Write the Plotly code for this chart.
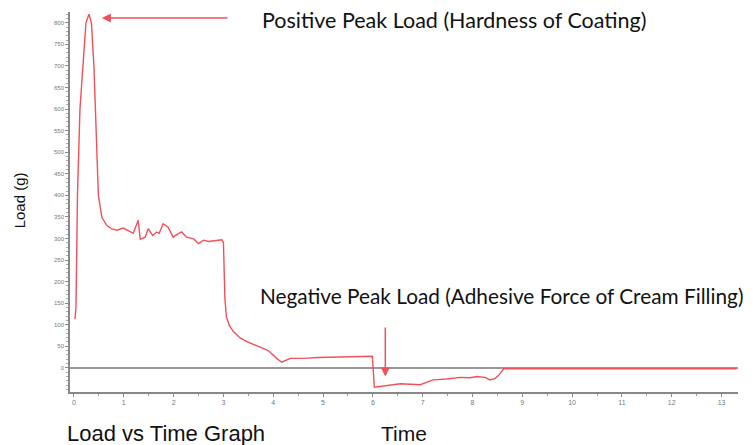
import plotly.graph_objects as go

# Time (s) and load (g)
time = [0.02, 0.04, 0.07, 0.12, 0.21, 0.24, 0.30, 0.35, 0.40, 0.46, 0.49, 0.56, 0.66, 0.76, 0.86, 0.99,
        1.10, 1.19, 1.29, 1.33, 1.43, 1.49, 1.58, 1.66, 1.71, 1.79, 1.89, 1.99, 2.08, 2.16, 2.26, 2.40,
        2.50, 2.60, 2.70, 2.80, 2.97, 3.00, 3.03, 3.06, 3.12, 3.20, 3.33, 3.47, 3.70, 3.90, 4.07, 4.17,
        4.34, 4.60, 4.90, 5.20, 5.50, 5.75, 5.94, 5.99, 6.03, 6.14, 6.35, 6.55, 6.75, 6.95, 7.21,
        7.48, 7.75, 7.95, 8.09, 8.25, 8.35, 8.45, 8.52, 8.63, 9.0, 9.5, 10.0, 10.5, 11.0, 11.5,
        12.0, 12.5, 13.0, 13.3]
load = [113, 141, 400, 600, 750, 800, 820, 800, 700, 500, 400, 349, 330, 322, 319, 324,
        318, 312, 342, 298, 303, 323, 307, 315, 312, 334, 326, 303, 310, 315, 303, 299,
        288, 296, 293, 294, 297, 290, 160, 118, 98, 84, 70, 61, 49, 40, 22, 13,
        22, 22, 24, 25, 26, 27, 28, 27, -45, -43, -40, -37, -38, -39, -28,
        -26, -22, -23, -20, -22, -28, -25, -18, -2, -2, -2, -2, -2, -2, -2,
        -2, -2, -2, -2]

x_ticks = list(range(0, 14))
y_ticks = list(range(0, 801, 50))

fig = go.Figure()
fig.add_trace(go.Scatter(x=time, y=load, mode="lines",
                         line=dict(color="rgb(240,80,90)", width=1.4), showlegend=False))

fig.update_layout(
    width=747, height=437,
    margin=dict(l=62, r=17, t=4, b=53),
    paper_bgcolor="white", plot_bgcolor="white",
    xaxis=dict(range=[-0.08, 13.33], tickvals=x_ticks, showgrid=False, zeroline=False,
               showline=True, linecolor="#888", linewidth=1.5, ticks="outside", ticklen=3,
               tickcolor="#888", tickfont=dict(size=7, color="#777"),
               minor=dict(dtick=0.5, ticks="outside", ticklen=2, tickcolor="#999")),
    yaxis=dict(range=[-56, 825], tickvals=y_ticks, showgrid=False, zeroline=True,
               zerolinecolor="#999", zerolinewidth=2,
               showline=True, linecolor="#888", linewidth=1.5, ticks="outside", ticklen=3,
               tickcolor="#888", tickfont=dict(size=6, color="#777"),
               minor=dict(dtick=10, ticks="outside", ticklen=2, tickcolor="#aaa")),
    font=dict(family="Liberation Sans, Arial", color="#111"),
    annotations=[
        dict(x=0.56, y=811, ax=3.11, ay=811, xref="x", yref="y", axref="x", ayref="y",
             text="", showarrow=True, arrowhead=2, arrowsize=1.2, arrowwidth=1.5,
             arrowcolor="rgb(240,80,90)"),
        dict(x=6.25, y=-20, ax=6.25, ay=97, xref="x", yref="y", axref="x", ayref="y",
             text="", showarrow=True, arrowhead=2, arrowsize=1.2, arrowwidth=1.5,
             arrowcolor="rgb(240,80,90)"),
        dict(x=0.284, y=0.98, xref="paper", yref="paper", xanchor="left", yanchor="middle",
             text="Positive Peak Load (Hardness of Coating)", showarrow=False,
             font=dict(family="Lato", size=21.5, color="#111")),
        dict(x=0.281, y=0.255, xref="paper", yref="paper", xanchor="left", yanchor="middle",
             text="Negative Peak Load (Adhesive Force of Cream Filling)", showarrow=False,
             font=dict(family="Lato", size=20.8, color="#111")),
        dict(x=-0.007, y=-0.108, xref="paper", yref="paper", xanchor="left", yanchor="middle",
             text="Load vs Time Graph", showarrow=False,
             font=dict(family="Liberation Sans, Arial", size=22, color="#111")),
        dict(x=0.462, y=-0.108, xref="paper", yref="paper", xanchor="left", yanchor="middle",
             text="Time", showarrow=False,
             font=dict(family="Liberation Sans, Arial", size=21, color="#111")),
        dict(x=-0.076, y=0.505, xref="paper", yref="paper", xanchor="center", yanchor="middle",
             text="Load (g)", showarrow=False, textangle=-90,
             font=dict(family="Liberation Sans, Arial", size=15, color="#111")),
    ],
)

fig.write_html("out.html")
